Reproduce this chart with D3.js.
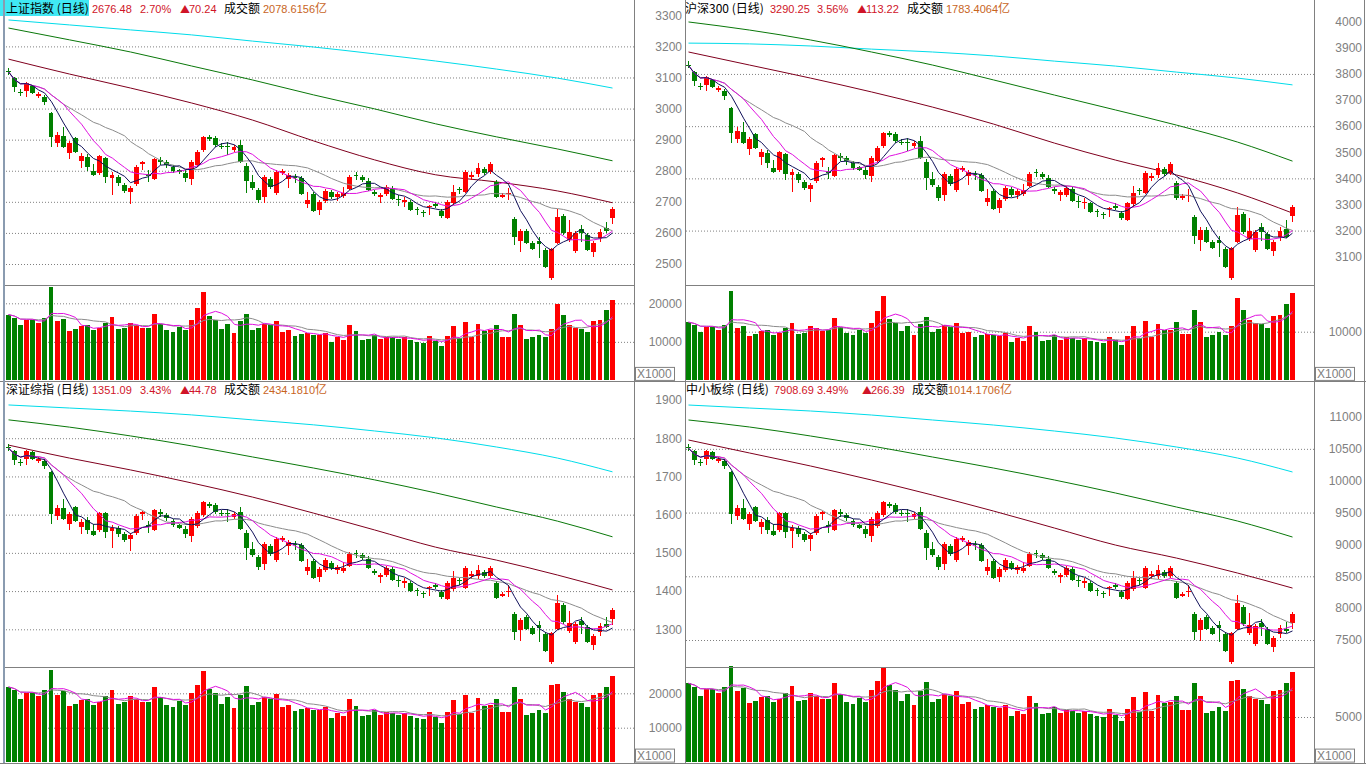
<!DOCTYPE html>
<html><head><meta charset="utf-8">
<script src="https://cdn.jsdelivr.net/npm/d3@7"></script>
<style>body{margin:0;background:#fff;overflow:hidden}svg{display:block}</style>
</head><body><svg id="c" width="1366" height="768"></svg>
<script>
// ---------------- DATA ----------------
// 上证指数
const shOpen=[3122,3098,3054,3057,3073,3041,3037,2986,2889,2912,2857,2906,2832,2844,2800,2793,2841,2777,2780,2754,2732,2758,2822,2790,2774,2835,2828,2812,2803,2793,2774,2819,2867,2909,2906,2880,2879,2867,2883,2816,2764,2738,2716,2774,2729,2793,2774,2781,2777,2694,2726,2674,2703,2732,2716,2719,2742,2785,2780,2767,2732,2716,2726,2745,2708,2700,2700,2676,2667,2684,2694,2671,2648,2697,2740,2732,2780,2790,2806,2796,2764,2716,2724,2645,2575,2607,2568,2575,2546,2455,2568,2655,2578,2542,2613,2594,2539,2584,2616,2648];
const shClose=[3118,3069,3052,3082,3050,3047,3021,2909,2915,2877,2889,2861,2848,2812,2787,2848,2780,2787,2761,2735,2745,2812,2828,2784,2838,2828,2819,2800,2795,2777,2828,2861,2909,2903,2883,2877,2876,2877,2828,2767,2745,2706,2780,2748,2796,2800,2787,2779,2726,2706,2671,2700,2735,2716,2726,2729,2780,2782,2771,2738,2726,2722,2748,2710,2705,2706,2674,2673,2664,2687,2687,2655,2700,2732,2737,2796,2787,2809,2793,2822,2716,2722,2727,2587,2607,2568,2549,2565,2491,2549,2652,2600,2604,2600,2600,2546,2568,2604,2606,2676];
const shHigh=[3131,3101,3063,3085,3076,3053,3044,2989,2925,2941,2896,2909,2857,2854,2822,2851,2844,2796,2787,2761,2751,2819,2830,2803,2841,2844,2835,2819,2806,2803,2835,2867,2912,2915,2912,2889,2893,2883,2899,2825,2787,2745,2787,2780,2803,2806,2793,2790,2784,2732,2732,2706,2742,2738,2732,2748,2787,2796,2787,2777,2738,2729,2754,2751,2722,2716,2706,2684,2674,2690,2700,2677,2706,2754,2748,2803,2796,2825,2812,2828,2771,2729,2745,2652,2613,2613,2575,2587,2552,2552,2677,2661,2642,2607,2626,2600,2575,2613,2636,2684];
const shLow=[3108,3053,3041,3037,3047,3034,3012,2877,2877,2874,2838,2857,2809,2800,2784,2787,2761,2722,2751,2729,2694,2751,2803,2764,2771,2819,2809,2793,2790,2764,2754,2812,2861,2896,2877,2870,2851,2861,2825,2729,2738,2697,2697,2742,2722,2787,2745,2761,2722,2681,2668,2658,2697,2710,2703,2713,2738,2771,2764,2735,2719,2697,2719,2706,2687,2684,2671,2658,2652,2658,2681,2648,2645,2690,2726,2729,2771,2780,2787,2790,2713,2713,2706,2562,2539,2565,2546,2520,2488,2449,2565,2594,2571,2536,2571,2542,2523,2571,2600,2629];
const shVol=[17080,16300,14320,15780,15780,14920,16300,24220,15350,16040,12760,13280,14140,14320,13020,13630,15000,16470,13280,13540,14920,14320,13630,13710,17160,14750,13020,12510,13880,13020,15610,18790,22930,16640,15610,13280,14750,12330,15350,17240,13020,13630,14750,14320,15430,12590,13020,11560,11990,12330,11900,11730,12420,10010,11130,10440,14320,12760,10440,10700,11900,10700,11300,11130,10700,11130,10440,10010,9750,11470,10270,8970,11470,14060,10870,15180,11130,14570,12850,13020,14320,11300,11300,17160,14320,10700,11130,11900,11130,13280,19740,16900,14320,13710,13450,12510,15350,15610,18190,20780];
// long moving averages, read at candles 0,10,...,90,99
const maIdx=[0,10,20,30,40,50,60,70,80,90,99];
const shMa60=[3159,3111,3066,3018,2963,2896,2835,2787,2764,2735,2697];
const shMa120=[3259,3221,3182,3137,3092,3044,2999,2951,2909,2870,2832];
const shMa250=[3285,3269,3253,3237,3217,3198,3176,3153,3127,3098,3066];

// 沪深300
const hsOpen=[3836,3809,3753,3757,3777,3738,3734,3670,3552,3579,3512,3571,3481,3496,3441,3433,3492,3413,3417,3386,3358,3390,3469,3429,3409,3485,3477,3457,3445,3433,3409,3465,3524,3575,3571,3540,3540,3524,3544,3461,3398,3366,3338,3409,3354,3433,3409,3417,3413,3311,3350,3287,3322,3358,3338,3342,3370,3425,3417,3402,3358,3338,3335,3359,3315,3304,3304,3276,3264,3284,3296,3268,3240,3300,3355,3343,3402,3414,3434,3422,3383,3323,3331,3251,3164,3204,3156,3164,3129,3018,3156,3263,3168,3125,3212,3188,3121,3176,3205,3255];
const hsClose=[3832,3773,3749,3789,3749,3745,3714,3575,3583,3536,3552,3516,3500,3457,3425,3500,3417,3425,3394,3362,3374,3457,3477,3421,3489,3477,3465,3441,3433,3413,3477,3516,3575,3568,3544,3536,3537,3536,3477,3402,3374,3326,3417,3378,3437,3441,3425,3413,3350,3326,3283,3319,3362,3338,3350,3354,3417,3421,3405,3366,3350,3346,3363,3315,3311,3311,3272,3272,3260,3288,3288,3248,3304,3343,3351,3422,3410,3438,3418,3454,3323,3331,3335,3180,3204,3156,3133,3152,3062,3133,3259,3196,3200,3196,3196,3129,3156,3200,3177,3290];
const hsHigh=[3848,3813,3765,3793,3781,3753,3742,3674,3595,3615,3560,3575,3512,3508,3469,3504,3496,3437,3425,3394,3382,3465,3481,3445,3492,3496,3485,3465,3449,3445,3485,3524,3579,3583,3579,3552,3556,3544,3564,3473,3425,3374,3425,3417,3445,3449,3433,3429,3421,3358,3358,3326,3370,3366,3358,3378,3425,3437,3425,3413,3366,3354,3371,3367,3331,3323,3311,3284,3272,3292,3304,3276,3311,3371,3363,3430,3422,3458,3442,3462,3390,3339,3359,3259,3212,3212,3164,3180,3137,3137,3291,3271,3247,3204,3228,3196,3164,3212,3240,3299];
const hsLow=[3821,3753,3738,3734,3745,3730,3702,3536,3536,3532,3489,3512,3453,3441,3421,3425,3394,3346,3382,3354,3311,3382,3445,3398,3405,3465,3453,3433,3429,3398,3386,3457,3516,3560,3536,3528,3504,3516,3473,3354,3366,3315,3315,3370,3346,3425,3374,3394,3346,3295,3279,3267,3315,3330,3322,3334,3366,3405,3398,3362,3342,3315,3327,3311,3288,3284,3268,3252,3244,3252,3280,3240,3236,3292,3335,3339,3390,3402,3410,3414,3319,3319,3311,3149,3121,3152,3129,3097,3058,3010,3152,3188,3160,3117,3160,3125,3101,3160,3170,3232];
const hsVol=[11960,11410,10020,11050,11050,10440,11410,18400,10750,11230,9190,9560,10180,10310,9370,9810,10800,11860,9560,9750,11190,10740,10220,10280,12870,11060,9770,9380,10410,9770,11860,14280,17430,12650,11860,10090,11210,9370,11670,13100,10030,10500,11360,11030,11880,9690,10030,8900,9230,9490,9280,9150,9690,7810,8680,8140,11170,9950,8140,8350,9280,8350,8810,8680,8350,8680,8140,7810,7610,8950,8220,7180,9180,11250,8700,12140,8900,11660,10280,10420,12030,9490,9490,14410,12030,8990,9350,10000,9350,11160,16980,14530,12320,11790,11570,10760,13200,13420,15640,17870];
const hsMa60=[3884,3834,3784,3731,3673,3608,3535,3470,3413,3344,3267];
const hsMa120=[3999,3968,3930,3884,3834,3777,3719,3662,3604,3539,3466];
const hsMa250=[3918,3915,3907,3895,3884,3869,3849,3830,3807,3784,3758];

// 深证综指
const szOpen=[1777,1766,1738,1746,1764,1740,1740,1712,1596,1617,1576,1620,1568,1586,1557,1560,1604,1557,1565,1549,1536,1552,1602,1573,1560,1607,1599,1583,1573,1562,1544,1571,1599,1628,1625,1604,1604,1594,1607,1552,1510,1489,1471,1518,1481,1534,1518,1523,1521,1453,1479,1437,1455,1474,1455,1453,1466,1500,1494,1484,1453,1437,1442,1458,1428,1421,1421,1402,1395,1408,1416,1398,1379,1405,1429,1408,1439,1439,1450,1439,1421,1387,1398,1340,1298,1332,1303,1311,1288,1214,1301,1364,1296,1267,1322,1306,1259,1293,1314,1327];
const szClose=[1774,1743,1735,1766,1746,1746,1727,1602,1617,1589,1602,1583,1581,1560,1547,1604,1555,1565,1549,1534,1547,1596,1607,1568,1612,1602,1591,1573,1565,1549,1589,1604,1633,1623,1607,1602,1601,1602,1562,1513,1494,1463,1523,1497,1536,1539,1528,1521,1479,1463,1434,1458,1481,1460,1463,1460,1497,1498,1487,1460,1447,1442,1460,1429,1426,1426,1400,1400,1392,1411,1411,1385,1421,1434,1426,1460,1445,1455,1439,1460,1382,1392,1400,1293,1324,1301,1288,1303,1243,1290,1369,1319,1316,1314,1311,1267,1283,1309,1306,1351];
const szHigh=[1785,1769,1746,1769,1766,1751,1746,1714,1625,1641,1607,1623,1589,1594,1576,1607,1607,1573,1571,1555,1552,1602,1610,1583,1615,1615,1604,1589,1576,1571,1594,1610,1636,1633,1631,1612,1615,1607,1620,1560,1528,1494,1528,1523,1542,1544,1534,1531,1526,1484,1484,1463,1487,1479,1468,1476,1502,1508,1500,1492,1458,1447,1466,1463,1439,1434,1426,1408,1400,1413,1421,1403,1426,1453,1434,1466,1453,1468,1455,1466,1426,1398,1416,1345,1330,1337,1309,1322,1293,1293,1390,1369,1348,1319,1332,1311,1288,1316,1332,1356];
const szLow=[1766,1730,1727,1730,1743,1735,1720,1576,1586,1586,1560,1581,1549,1549,1544,1555,1539,1513,1542,1528,1505,1547,1586,1552,1557,1594,1583,1568,1562,1539,1528,1565,1594,1617,1602,1596,1581,1589,1560,1481,1489,1455,1455,1492,1476,1528,1494,1508,1476,1442,1432,1424,1450,1455,1445,1447,1463,1487,1481,1458,1442,1421,1437,1426,1411,1408,1398,1387,1382,1387,1405,1379,1377,1400,1416,1405,1432,1432,1434,1434,1379,1385,1385,1272,1269,1298,1285,1267,1241,1209,1298,1314,1290,1262,1288,1264,1246,1283,1303,1311];
const szVol=[21860,20860,18330,20200,20200,19100,20860,26640,19650,20530,16330,17000,18100,18330,16670,17450,19200,21080,17000,17330,19100,18330,17450,17550,21960,18880,16670,16010,17770,16670,19980,22550,26370,21300,19980,17000,18880,15780,19650,22070,16670,17450,18880,18330,19750,16120,16670,14800,15350,15780,15230,15010,15900,12810,14250,13360,18330,16330,13360,13700,15230,13700,14460,14250,13700,14250,13360,12810,12480,14680,13150,11480,14680,18000,13910,19430,14250,18650,16450,16670,18330,14460,14460,21960,18330,13700,14250,15230,14250,22500,22700,20280,18330,17550,17220,16010,19650,19980,21830,24940];
const szMa60=[1782,1748,1717,1683,1646,1604,1560,1515,1481,1442,1403];
const szMa120=[1848,1829,1806,1780,1751,1722,1691,1657,1620,1583,1542];
const szMa250=[1887,1879,1871,1861,1848,1835,1819,1801,1777,1748,1712];

// 中小板综
const zxOpen=[10528,10462,10294,10342,10450,10306,10306,10138,9442,9568,9322,9586,9274,9382,9208,9226,9490,9208,9256,9160,9082,9178,9478,9304,9226,9508,9460,9364,9304,9238,9130,9292,9460,9634,9616,9490,9490,9430,9508,9178,8926,8800,8692,8974,8752,9070,8974,9004,8992,8584,8740,8488,8596,8710,8596,8584,8662,8866,8830,8770,8584,8488,8518,8614,8434,8392,8392,8278,8236,8314,8362,8254,8140,8296,8440,8314,8500,8500,8566,8500,8392,8188,8254,7906,7654,7858,7684,7732,7594,7150,7672,8019,7611,7437,7767,7671,7389,7593,7672,7765];
const zxClose=[10510,10324,10276,10462,10342,10342,10228,9478,9568,9400,9478,9364,9352,9226,9148,9490,9196,9256,9160,9070,9148,9442,9508,9274,9538,9478,9412,9304,9256,9160,9400,9490,9664,9604,9508,9478,9472,9478,9238,8944,8830,8644,9004,8848,9082,9100,9034,8992,8740,8644,8470,8614,8752,8626,8644,8626,8848,8854,8788,8626,8548,8518,8626,8440,8422,8422,8266,8266,8218,8332,8332,8176,8392,8470,8422,8626,8536,8596,8500,8626,8158,8218,8266,7624,7810,7672,7594,7684,7324,7606,8080,7749,7731,7719,7701,7437,7533,7689,7642,7909];
const zxHigh=[10576,10480,10342,10480,10462,10372,10342,10150,9616,9712,9508,9604,9400,9430,9322,9508,9508,9304,9292,9196,9178,9478,9526,9364,9556,9556,9490,9400,9322,9292,9430,9526,9682,9664,9652,9538,9556,9508,9586,9226,9034,8830,9034,9004,9118,9130,9070,9052,9022,8770,8770,8644,8788,8740,8674,8722,8878,8914,8866,8818,8614,8548,8662,8644,8500,8470,8422,8314,8266,8344,8392,8284,8422,8584,8470,8662,8584,8674,8596,8662,8422,8254,8362,7936,7846,7888,7720,7798,7624,7624,8206,8049,7923,7749,7827,7701,7563,7731,7780,7939];
const zxLow=[10462,10246,10228,10246,10324,10276,10186,9322,9382,9382,9226,9352,9160,9160,9130,9196,9100,8944,9118,9034,8896,9148,9382,9178,9208,9430,9364,9274,9238,9100,9034,9256,9430,9568,9478,9442,9352,9400,9226,8752,8800,8596,8596,8818,8722,9034,8830,8914,8722,8518,8458,8410,8566,8596,8536,8548,8644,8788,8752,8614,8518,8392,8488,8422,8332,8314,8254,8188,8158,8188,8296,8140,8128,8266,8362,8296,8458,8458,8470,8470,8140,8176,8176,7498,7480,7654,7576,7468,7312,7120,7654,7719,7575,7407,7563,7419,7311,7533,7606,7669];
const zxVol=[8740,8340,7330,8080,8080,7640,8340,10660,7860,8210,6530,6800,7240,7330,6670,6980,7680,8430,6800,6930,7640,7330,6980,7020,8780,7550,6670,6400,7110,6670,7990,9020,10550,8520,7990,6800,7550,6310,7860,8830,6670,6980,7550,7330,7900,6450,6670,5920,6140,6310,6090,6000,6360,5120,5700,5340,7330,6530,5340,5480,6090,5480,5780,5700,5480,5700,5340,5120,4990,5870,5260,4590,5870,7200,5560,7770,5700,7460,6580,6670,7330,5780,5780,8780,7330,5480,5700,6090,5700,9000,9080,8110,7330,7020,6890,6400,7860,7990,8730,9980];
const zxMa60=[10639,10435,10231,10011,9775,9524,9257,8990,8786,8551,8315];
const zxMa120=[10953,10843,10702,10545,10372,10199,10011,9807,9587,9367,9116];
const zxMa250=[11188,11141,11094,11031,10953,10874,10780,10670,10529,10356,10137];

// tick labels
const shTicks=[3300,3200,3100,3000,2900,2800,2700,2600,2500];
const shGrid=[3200,3100,3000,2900,2800,2700,2600,2500];
const hsTicks=[4000,3900,3800,3700,3600,3500,3400,3300,3200,3100];
const hsGrid=[3800,3600,3400,3200];
const szTicks=[1900,1800,1700,1600,1500,1400,1300];
const szGrid=[1800,1700,1600,1500,1400,1300];
const zxTicks=[11000,10500,10000,9500,9000,8500,8000,7500];
const zxGrid=[10500,9500,8500,7500];

// header texts: [text, colour, numeric?]
const R="#d01428",B="#c8641e",K="#000";
const headers={
 sh:[["上证指数 (日线)",K,0],["2676.48",R,1],["2.70%",R,1],["▲",R,0],["70.24",R,1],["成交额",K,0],["2078.6156",B,1],["亿",B,0]],
 hs:[["沪深300 (日线)",K,0],["3290.25",R,1],["3.56%",R,1],["▲",R,0],["113.22",R,1],["成交额",K,0],["1783.4064",B,1],["亿",B,0]],
 sz:[["深证综指 (日线)",K,0],["1351.09",R,1],["3.43%",R,1],["▲",R,0],["44.78",R,1],["成交额",K,0],["2434.1810",B,1],["亿",B,0]],
 zx:[["中小板综 (日线)",K,0],["7908.69",R,1],["3.49%",R,1],["▲",R,0],["266.39",R,1],["成交额",K,0],["1014.1706",B,1],["亿",B,0]]
};

// ---------------- DRAW ----------------
const RED="#ff0000",GREEN="#008000",GRID="#808080";
const svg=d3.select("#c");
const N=100;
function ma(arr,p){return arr.map((_,i)=>d3.mean(arr.slice(Math.max(0,i-p+1),i+1)));}

function panel(c){
  const g=svg.append("g");
  const x=d3.scaleBand().domain(d3.range(N)).range([c.x0+5.25,c.x0+615.25]).paddingInner(0.2).paddingOuter(0.1);
  const cx=i=>Math.floor(x(i)+x.bandwidth()/2)+0.5;
  const y=d3.scaleLinear().domain(c.pDomain).range(c.pRange);
  const yv=d3.scaleLinear().domain(c.vDomain).range(c.vRange);
  const plotL=c.x0+5,plotR=c.x0+634;
  const styleGrid=s=>{s.select(".domain").remove();s.selectAll("line").attr("stroke",GRID).attr("stroke-dasharray","1,2");};
  g.append("g").attr("transform",`translate(${plotR},0)`)
    .call(d3.axisLeft(y).tickValues(c.pGrid).tickSize(plotR-plotL).tickFormat("")).call(styleGrid);
  g.append("g").attr("transform",`translate(${plotR},0)`)
    .call(d3.axisLeft(yv).tickValues(c.vGrid).tickSize(plotR-plotL).tickFormat("")).call(styleGrid);
  const styleLab=s=>{s.select(".domain").remove();s.selectAll("text").attr("fill","#808080").attr("font-family","Liberation Sans, Arial, sans-serif").attr("font-size",12);};
  g.append("g").attr("transform",`translate(${c.x0+682},0)`)
    .call(d3.axisLeft(y).tickValues(c.pTicks).tickSize(0).tickPadding(0).tickFormat(d3.format("d"))).call(styleLab);
  g.append("g").attr("transform",`translate(${c.x0+682},0)`)
    .call(d3.axisLeft(yv).tickValues(c.vTicks).tickSize(0).tickPadding(0).tickFormat(d3.format("d"))).call(styleLab);

  const longLine=d3.line().x((v,k)=>cx(maIdx[k])).y(v=>y(v)).curve(d3.curveMonotoneX);
  [[c.ma250,"#00dcea"],[c.ma120,"#0a780a"],[c.ma60,"#80001e"]].forEach(([d,col])=>{
    g.append("path").attr("d",longLine(d)).attr("fill","none").attr("stroke",col).attr("stroke-width",1);
  });

  const idx=d3.range(c.open.length);
  const up=i=>c.close[i]>=c.open[i];
  g.append("g").selectAll("line").data(idx).join("line")
    .attr("x1",cx).attr("x2",cx).attr("y1",i=>y(c.high[i])).attr("y2",i=>y(c.low[i]))
    .attr("stroke",i=>up(i)?RED:GREEN).attr("shape-rendering","crispEdges");
  g.append("g").selectAll("rect").data(idx).join("rect")
    .attr("x",i=>x(i)).attr("width",x.bandwidth())
    .attr("y",i=>y(Math.max(c.open[i],c.close[i])))
    .attr("height",i=>Math.max(1,y(Math.min(c.open[i],c.close[i]))-y(Math.max(c.open[i],c.close[i]))))
    .attr("fill",i=>up(i)?RED:GREEN).attr("shape-rendering","crispEdges");
  g.append("g").selectAll("rect").data(idx).join("rect")
    .attr("x",i=>x(i)).attr("width",x.bandwidth())
    .attr("y",i=>yv(c.vol[i])).attr("height",i=>yv(0)-yv(c.vol[i]))
    .attr("fill",i=>up(i)?RED:GREEN).attr("shape-rendering","crispEdges");
  const pl=d3.line().x((v,i)=>cx(i)).y(v=>y(v));
  [[ma(c.close,20),"#8c8c8c"],[ma(c.close,10),"#e010e0"],[ma(c.close,5),"#10105a"]].forEach(([d,col])=>{
    g.append("path").attr("d",pl(d)).attr("fill","none").attr("stroke",col).attr("stroke-width",1);
  });
  const vl=d3.line().x((v,i)=>cx(i)).y(v=>yv(v));
  [[ma(c.vol,10),"#8c8c8c"],[ma(c.vol,5),"#e010e0"]].forEach(([d,col])=>{
    g.append("path").attr("d",vl(d)).attr("fill","none").attr("stroke",col).attr("stroke-width",1);
  });
  // header
  if(c.hilite) g.append("rect").attr("x",c.x0).attr("y",c.top).attr("width",89).attr("height",16).attr("fill","#40e8f4");
  const t=g.append("text").attr("y",c.top+12.5);
  c.header.forEach((p,k)=>{
    const s=t.append("tspan").attr("fill",p[1]).text(p[0])
      .attr("font-family",p[2]?"'Liberation Sans',Arial,sans-serif":"'Noto Sans CJK SC',sans-serif")
      .attr("font-size",p[2]?11:(p[0]==="▲"?10:12));
    if(c.hx[k]!=null) s.attr("x",c.x0+c.hx[k]);
  });
  g.append("rect").attr("x",c.x0+635.5).attr("y",c.vRange[0]-13).attr("width",39).attr("height",13).attr("fill","#fff").attr("stroke","#808080");
  g.append("text").attr("x",c.x0+637).attr("y",c.vRange[0]-2).attr("fill","#808080").attr("font-family","Liberation Sans, Arial").attr("font-size",12).text("X1000");
}

panel({x0:0,top:0,hilite:true,header:headers.sh,hx:[6,92,140,180,189,224,263,null],
  pDomain:[3300,2500],pRange:[15.3,264],vDomain:[0,20000],vRange:[380.4,303.3],
  pTicks:shTicks,pGrid:shGrid,vTicks:[20000,10000],vGrid:[20000,10000],
  open:shOpen,close:shClose,high:shHigh,low:shLow,vol:shVol,ma60:shMa60,ma120:shMa120,ma250:shMa250});
panel({x0:680,top:0,header:headers.hs,hx:[5,90,137,177,186,227,266,null],
  pDomain:[4000,3100],pRange:[21.7,256.7],vDomain:[0,10000],vRange:[380.4,331.7],
  pTicks:hsTicks,pGrid:hsGrid,vTicks:[10000],vGrid:[10000],
  open:hsOpen,close:hsClose,high:hsHigh,low:hsLow,vol:hsVol,ma60:hsMa60,ma120:hsMa120,ma250:hsMa250});
panel({x0:0,top:381,header:headers.sz,hx:[6,92,140,180,189,224,263,null],
  pDomain:[1900,1300],pRange:[400,629.3],vDomain:[0,20000],vRange:[762.1,693.3],
  pTicks:szTicks,pGrid:szGrid,vTicks:[20000,10000],vGrid:[20000,10000],
  open:szOpen,close:szClose,high:szHigh,low:szLow,vol:szVol,ma60:szMa60,ma120:szMa120,ma250:szMa250});
panel({x0:680,top:381,header:headers.zx,hx:[6,94,137,182,191,232,268,null],
  pDomain:[11000,7500],pRange:[417,640],vDomain:[0,5000],vRange:[762.1,717],
  pTicks:zxTicks,pGrid:zxGrid,vTicks:[5000],vGrid:[5000],
  open:zxOpen,close:zxClose,high:zxHigh,low:zxLow,vol:zxVol,ma60:zxMa60,ma120:zxMa120,ma250:zxMa250});

const fr=svg.append("g").attr("stroke","#808080").attr("shape-rendering","crispEdges");
[[634.5,0,634.5,763],[685.5,0,685.5,763],[1314.5,0,1314.5,763],[1364.5,0,1364.5,763],
 [5,285.5,634,285.5],[686,285.5,1314,285.5],[0,381.5,1366,381.5],
 [5,667.5,634,667.5],[686,667.5,1314,667.5],[0,763.5,1366,763.5]].forEach(l=>{
  fr.append("line").attr("x1",l[0]).attr("y1",l[1]).attr("x2",l[2]).attr("y2",l[3]);});
svg.append("line").attr("x1",4).attr("x2",4).attr("y1",0).attr("y2",763).attr("stroke","#8a9bb0").attr("stroke-width",2);
</script></body></html>
